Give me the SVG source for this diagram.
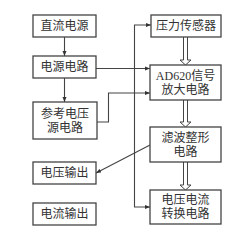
<svg xmlns="http://www.w3.org/2000/svg" width="248" height="234" viewBox="0 0 248 234">
<style>
.box{fill:#fff;stroke:#444;stroke-width:1.3}
.t{font-family:"Liberation Serif","Noto Sans CJK SC",serif;font-size:12px;fill:#333;text-anchor:middle;dominant-baseline:central}
.ln{fill:none;stroke:#444;stroke-width:1.1}
.hol{fill:#fff;stroke:#444;stroke-width:1}
</style>
<defs>
<marker id="ah" viewBox="0 0 10 10" refX="10" refY="5" markerWidth="5" markerHeight="5" markerUnits="userSpaceOnUse" orient="auto-start-reverse">
<path d="M0,1 L10,5 L0,9 Z" fill="#333"/>
</marker>
</defs>
<rect width="248" height="234" fill="#fff"/>
<g id="connectors">
<path class="ln" d="M64.5,37 V56" marker-end="url(#ah)"/>
<path class="ln" d="M64.5,78 V102" marker-end="url(#ah)"/>
<path class="ln" d="M96,68.5 H150" marker-end="url(#ah)"/>
<path class="ln" d="M97,122 H108.5 V93 H150" marker-end="url(#ah)"/>
<path class="ln" d="M151,25 H134.5 V207 H150" marker-start="url(#ah)" marker-end="url(#ah)"/>
<path class="ln" d="M150,145 L96,173" marker-end="url(#ah)"/>
<path class="hol" d="M183.5,37 V60 H180 L185.5,65 L191,60 H187.5 V37"/>
<path class="hol" d="M183.5,100 V122 H180 L185.5,127 L191,122 H187.5 V100"/>
<path class="hol" d="M183.5,162 V185 H180 L185.5,190 L191,185 H187.5 V162"/>
</g>
<g id="n1"><rect class="box" x="33" y="15" width="63" height="22"/><text class="t" x="64.5" y="26">直流电源</text></g>
<g id="n2"><rect class="box" x="33" y="56" width="63" height="22"/><text class="t" x="64.5" y="67">电源电路</text></g>
<g id="n3"><rect class="box" x="33" y="102" width="64" height="37"/><text class="t" x="65" y="113.5">参考电压</text><text class="t" x="65" y="128">源电路</text></g>
<g id="n4"><rect class="box" x="33" y="162" width="63" height="22"/><text class="t" x="64.5" y="173">电压输出</text></g>
<g id="n5"><rect class="box" x="33" y="203" width="63" height="22"/><text class="t" x="64.5" y="214">电流输出</text></g>
<g id="n6"><rect class="box" x="151" y="15" width="70" height="22"/><text class="t" x="186" y="26">压力传感器</text></g>
<g id="n7"><rect class="box" x="150" y="65" width="71" height="35"/><text class="t" x="185.5" y="76">AD620信号</text><text class="t" x="185.5" y="90">放大电路</text></g>
<g id="n8"><rect class="box" x="150" y="127" width="71" height="35"/><text class="t" x="185.5" y="138">滤波整形</text><text class="t" x="185.5" y="152">电路</text></g>
<g id="n9"><rect class="box" x="150" y="190" width="71" height="34"/><text class="t" x="185.5" y="200">电压电流</text><text class="t" x="185.5" y="214">转换电路</text></g>
</svg>
